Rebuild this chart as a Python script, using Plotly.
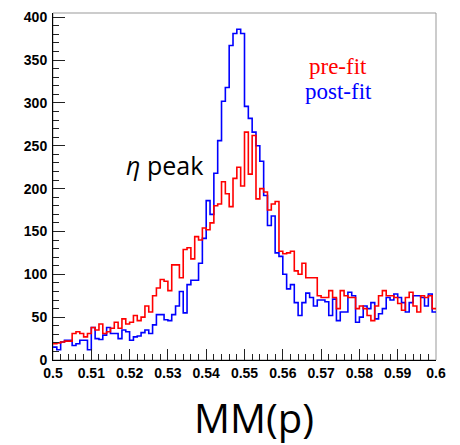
import numpy as np
import plotly.graph_objects as go

# histogram binning: 100 bins between 0.5 and 0.6
x_lo = 0.5
x_hi = 0.6
n_bins = 100

pre_fit = [
    19, 20, 21, 22, 22, 31, 33, 31, 27, 31,
    38, 35, 42, 31, 33, 37, 44, 37, 48, 42,
    44, 52, 46, 50, 63, 56, 75, 84, 94, 92,
    81, 111, 111, 96, 129, 131, 118, 144, 140, 154,
    152, 160, 180, 182, 208, 194, 179, 212, 225, 203,
    266, 217, 262, 188, 200, 196, 175, 182, 185, 127,
    124, 125, 127, 104, 100, 113, 96, 96, 96, 75,
    73, 73, 81, 73, 60, 81, 75, 73, 73, 60,
    63, 60, 52, 46, 63, 75, 81, 75, 75, 73,
    66, 58, 73, 79, 63, 56, 75, 73, 75, 60,
]

post_fit = [
    15, 12, 21, 23, 23, 17, 19, 23, 23, 12,
    38, 25, 24, 29, 38, 31, 31, 25, 35, 33,
    23, 27, 28, 32, 35, 31, 41, 53, 53, 47,
    46, 53, 63, 80, 55, 88, 93, 93, 113, 142,
    186, 170, 218, 256, 302, 318, 367, 381, 386, 381,
    296, 282, 266, 250, 232, 192, 157, 168, 125, 121,
    100, 83, 88, 67, 52, 67, 78, 73, 63, 70,
    70, 68, 52, 71, 46, 56, 56, 79, 75, 44,
    50, 63, 60, 67, 48, 54, 60, 73, 70, 77,
    73, 67, 56, 67, 75, 75, 73, 63, 77, 56,
]

edges = np.linspace(x_lo, x_hi, n_bins + 1)


def step(vals):
    return list(vals) + [vals[-1]]


fig = go.Figure()
fig.add_trace(go.Scatter(x=edges, y=step(post_fit), mode="lines", line_shape="hv",
                         line=dict(color="#0000ff", width=1.6), name="post-fit"))
fig.add_trace(go.Scatter(x=edges, y=step(pre_fit), mode="lines", line_shape="hv",
                         line=dict(color="#ff0000", width=1.6), name="pre-fit"))

tick_font = dict(family="Liberation Sans", size=14, color="black", weight="bold")

# page body adds an 8px margin, so the figure is a little smaller than the window
fig.update_layout(
    width=452,
    height=437,
    autosize=False,
    margin=dict(l=45, r=24, t=1, b=85),
    paper_bgcolor="white",
    plot_bgcolor="white",
    showlegend=False,
    xaxis=dict(
        range=[x_lo, x_hi], dtick=0.01, tick0=0.5, ticks="inside", ticklen=11,
        tickcolor="#222", showgrid=False, zeroline=False, showline=True,
        linecolor="black", linewidth=1, tickfont=tick_font, ticklabeloverflow="allow",
        minor=dict(dtick=0.002, ticks="inside", ticklen=6, tickcolor="#222"),
    ),
    yaxis=dict(
        range=[0, 405], dtick=50, ticks="inside", ticklen=12, tickcolor="#222",
        showgrid=False, zeroline=False, showline=True, linecolor="black",
        linewidth=1, tickfont=tick_font, ticklabelstandoff=2, ticklabeloverflow="allow",
        minor=dict(dtick=10, ticks="inside", ticklen=6, tickcolor="#222"),
    ),
    shapes=[dict(type="rect", xref="paper", yref="paper", x0=0, y0=0, x1=1, y1=1,
                 line=dict(color="#999", width=1), layer="below")],
    annotations=[
        dict(x=0.5291, y=228, text="<i>η</i> peak", showarrow=False,
             font=dict(family="Open Sans", size=25, color="black")),
        dict(x=0.5745, y=343, text="pre-fit", showarrow=False,
             font=dict(family="Liberation Serif", size=23, color="#ff0000")),
        dict(x=0.5745, y=313, text="post-fit", showarrow=False,
             font=dict(family="Liberation Serif", size=23, color="#0000ff")),
        dict(x=0.525, y=-0.08, xref="paper", yref="paper", yanchor="top", text="MM(p)",
             showarrow=False, font=dict(family="Open Sans", size=40, color="black")),
    ],
)

fig.write_html("out.html")
